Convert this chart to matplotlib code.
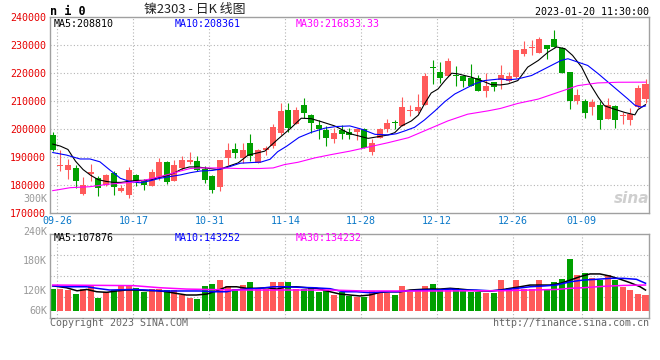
import matplotlib
matplotlib.use('Agg')
import matplotlib.pyplot as plt
import numpy as np

# ---------------- data ----------------
dates = ['09-26','09-27','09-28','09-29','09-30',
         '10-10','10-11','10-12','10-13','10-14',
         '10-17','10-18','10-19','10-20','10-21',
         '10-24','10-25','10-26','10-27','10-28',
         '10-31','11-01','11-02','11-03','11-04',
         '11-07','11-08','11-09','11-10','11-11',
         '11-14','11-15','11-16','11-17','11-18',
         '11-21','11-22','11-23','11-24','11-25',
         '11-28','11-29','11-30','12-01','12-02',
         '12-05','12-06','12-07','12-08','12-09',
         '12-12','12-13','12-14','12-15','12-16',
         '12-19','12-20','12-21','12-22','12-23',
         '12-26','12-27','12-28','12-29','12-30',
         '01-03','01-04','01-05','01-06',
         '01-09','01-10','01-11','01-12','01-13',
         '01-16','01-17','01-18','01-19','01-20']

opens = [197960,187000,185360,186200,176960,184040,182600,179960,184520,177800,
         176600,183800,181760,179600,182600,188240,181640,186200,188240,188840,
         185840,183440,179240,189800,192800,189800,195200,188000,192440,194000,
         198560,206840,201800,208760,205160,201440,199760,196400,199640,199040,
         199160,200000,191960,196760,200000,202520,201200,206360,206600,208760,
         222200,220400,219200,219440,219200,218360,218360,213800,217040,217640,
         217400,218600,227000,229040,227360,230240,232400,229160,220640,209960,
         210200,207800,208640,203600,208400,204680,203240,207800,210800]
highs = [199160,192440,189560,187160,182960,187760,183200,184040,185000,180200,
         186560,184160,182240,185840,189800,188840,189200,190400,191840,190640,
         186800,183800,189200,195200,195200,195200,198200,192800,194000,201800,
         209360,209360,207800,211160,205400,203240,201200,200600,201440,200600,
         200600,200600,196400,200600,203600,203240,211640,208760,212600,220040,
         224600,224000,225440,222560,219440,223400,219560,220040,217040,223040,
         220400,228440,231560,232040,233000,230240,235400,229400,220640,214400,
         210800,210800,210200,211040,208640,206240,207560,215960,218000]
lows = [192200,185240,182360,179000,176600,181640,176000,179600,176600,177440,
        175400,179600,178160,179600,182000,180560,181400,185600,187760,185000,
        180800,177200,177800,187400,189800,188000,188600,188000,191000,193400,
        197960,199160,201800,204200,198800,196400,194000,195200,196400,196400,
        196040,193400,190760,196760,199160,200000,201200,204800,206000,208760,
        216200,216560,219200,215600,215240,215600,213560,211400,213800,214400,
        216800,218360,226160,226400,227360,225200,229400,220040,207200,209000,
        203960,205160,200000,203600,200360,201800,201560,207560,209240]
closes = [192440,187160,187400,181640,180080,184640,179000,183800,179240,178880,
          185600,181400,179960,184640,188240,181040,187400,189200,189200,185600,
          182000,178400,189200,192440,191360,192440,190400,192440,193160,200960,
          206360,200360,206840,206000,202160,200000,197000,198560,198440,197960,
          200000,193400,194960,200240,202400,202280,207800,206840,208040,219200,
          221840,218240,224360,219080,217400,215600,213800,215600,215240,219440,
          219200,228200,228800,229280,232400,228800,229400,220160,210200,212360,
          205760,209840,203240,208640,203240,204920,205400,214760,216200]
# volume in thousands
volumes = [112,113,108,87,113,131,68,99,108,131,
           131,117,99,112,112,108,110,82,68,61,
           129,138,160,131,113,134,152,113,113,152,
           152,152,113,113,120,99,108,82,96,77,
           71,73,105,100,90,82,129,97,115,129,
           141,113,113,120,103,99,99,94,94,160,
           117,160,113,113,160,113,152,165,270,186,
           199,169,160,186,160,125,108,87,82]

tick_dates = ['09-26','10-17','10-31','11-14','11-28','12-12','12-26','01-09']
price_ticks = [170000,180000,190000,200000,210000,220000,230000,240000]
vol_tick_labels = ['300K','240K','180K','120K','60K']

# moving-average lines (position in trading-day index, value)
ma5_x = [0,1,2,3,4,5,6,7,8,9,10,11,12,13,14,15,16,17,18,19,21.8,24.4,25.7,27.9,29.6,31.4,
         32.7,34,35.3,37.1,38.4,39.1,41.5,44.1,45,45.9,47.2,48.1,48.9,49.8,50.7,51.6,52.5,
         53.3,55.1,56.4,57.7,58.9,59.9,61.2,62.5,63.9,65.2,66.3,67.4,68.4,69.6,70.7,71.8,
         72.6,73.9,75.3,76.6,77,78]
ma5_v = [194720,194000,192800,188600,185600,183560,182000,181400,181040,181040,181400,
         181760,181760,182000,182840,183440,184400,185840,186560,186560,185600,188000,
         190760,192200,196400,200600,203960,203800,202760,201200,199400,198440,196760,
         197960,198800,201200,203000,205040,209000,212960,214400,217400,220040,219800,
         218600,217400,215960,215840,216200,217400,222200,224600,227600,229400,228800,
         226400,222200,216200,211400,208400,207200,206000,205160,207000,208810]
ma10_x = [0,1.8,3.6,4.9,6.2,7.5,8.9,10.2,11.5,12.8,14.1,15.4,16.8,18.1,19.4,21,22.5,24.7,
          27.4,28.6,29.6,30.8,32.4,34,35.8,37.3,39.1,40.7,42.4,44.2,45.2,46.3,47.6,48.9,
          50.3,51.6,52.9,54.2,55.5,56.8,58.9,59.9,61.2,63,64.3,65.6,66.9,67.8,69.1,70.4,
          71.8,73.1,74.4,75.7,76.6,77.4,78]
ma10_v = [191700,190800,189400,189400,188400,185500,182500,181300,180900,181600,182500,
          183100,183700,184500,185100,185300,186000,187900,188300,189300,192000,194000,
          197100,198900,200400,201000,201200,200000,198200,198000,198400,199400,200700,
          203300,206600,209900,212600,214400,216200,217400,218000,217640,218000,219200,
          221000,222800,224600,225200,224000,222800,219800,216800,213800,210800,208600,
          207900,208361]
ma30_x = [0,0.7,2.3,4.9,7.5,10.2,11.5,12.8,14.1,15.4,16.8,18.1,19.4,21.8,24.4,27.2,29,
          30.5,32.3,34.5,36.7,39.1,41.5,44.1,46.8,49.4,52,54.6,57.3,58.9,61.2,63.9,66.5,
          69.1,71.7,74.4,78]
ma30_v = [178100,178400,179150,179500,180450,181000,181500,182250,183100,184000,185100,
          186000,186200,186200,186000,186000,186200,187400,188240,189800,191000,192200,
          193640,195200,197000,200000,203000,205400,206600,207440,209240,210800,213200,
          215600,216560,216800,216833]

vma5_x = [0,1.8,3.2,4.5,5.8,7.1,8.4,9.7,11.1,12.4,13.7,15,16.3,17.6,18.9,20.3,21.6,22.9,
          24.2,25.5,26.8,28.2,29.5,30.8,32.1,33.4,34.7,36.5,37.8,39.1,40.4,41.7,43.1,44.4,
          45.7,47,48.3,49.7,51,52.3,53.6,54.9,56.2,57.6,58.9,60.2,61.5,62.8,64.1,65.4,
          66.8,68.1,69.4,70.7,72,73.3,74.7,76,77.3,78]
vma5_v = [130,120,104,111,99,96,103,108,108,105,105,99,90,82,82,87,104,125,125,117,117,
          120,113,125,125,120,117,99,87,82,77,82,96,99,99,108,111,113,113,117,113,108,
          103,103,108,117,125,134,134,134,143,160,178,192,192,181,164,146,125,107.9]
vma10_x = [0,1.8,4.5,5.8,7.5,10.6,12.4,14.1,15.9,17.6,19.4,21.1,22.9,23.8,25.5,27.3,29,
           30.8,32.5,34.3,36.5,38.2,40,41.7,43.5,45.3,47,48.8,50.5,52.3,54,55.8,57.6,
           59.3,61.1,62.8,64.6,66.3,68.1,69.8,71.6,73.3,75.1,76.8,78]
vma10_v = [130,125,125,117,108,111,108,103,103,103,103,99,99,108,113,117,125,125,122,
           120,115,99,99,94,99,99,104,108,108,113,108,108,104,108,117,125,129,134,151,
           160,164,169,169,164,143.3]
vma30_x = [0,10.6,14.1,17.6,20.3,23.8,36.5,40.9,49.6,59.3,62.8,66.3,68.1,69.8,71.6,
           73.3,75.1,78]
vma30_v = [134,131,120,113,111,108,108,103,103,104.5,108,111,117,120,125,129,132,134.2]

price_legend = [('MA5', '208810'), ('MA10', '208361'), ('MA30', '216833.33')]
vol_legend = [('MA5', '107876'), ('MA10', '143252'), ('MA30', '134232')]
header_symbol = 'n i 0'
header_title = '镍2303 - 日K 线图'
header_time = '2023-01-20 11:30:00'
footer_left = 'Copyright 2023 SINA.COM'
footer_right = 'http://finance.sina.com.cn'

# ---------------- style ----------------
W, H = 660, 360
RED = '#ff5a5a'
GREEN = '#00a000'
GRID = '#b4b4b4'
FRAME = '#a0a0a0'
MONO = 'DejaVu Sans Mono'
ma_colors = ['#000000', '#0000ff', '#ff00ff']

fig = plt.figure(figsize=(W / 100, H / 100), dpi=100)
fig.patch.set_facecolor('white')

def px_axes(l, t, r, b):
    return fig.add_axes([l / W, 1 - b / H, (r - l) / W, (b - t) / H])

ax = px_axes(50, 17.3, 649.3, 213.3)
axv = px_axes(50, 234.3, 649.3, 317.7)

x = np.arange(len(dates))
o = np.array(opens); c = np.array(closes); hi = np.array(highs); lo = np.array(lows)
up = c >= o
cols = np.where(up, RED, GREEN)

xlim = (-0.36, len(dates) - 0.5)
for a in (ax, axv):
    a.set_xlim(*xlim)
    a.set_facecolor('white')
    for s in a.spines.values():
        s.set_color(FRAME)
        s.set_linewidth(1.0)
    a.tick_params(length=0)

# grid positions
tick_pos = [dates.index(d) + 0.6 for d in tick_dates]
dot = (0, (1, 2))
for a in (ax, axv):
    for tp in tick_pos:
        a.axvline(tp, color=GRID, lw=0.8, ls=dot, zorder=0)
for p in price_ticks[1:-1]:
    ax.axhline(p, color=GRID, lw=0.8, ls=dot, zorder=0)
for f in (0.25, 0.5, 0.75):
    axv.plot([0, 1], [f, f], transform=axv.transAxes, color=GRID, lw=0.8, ls=dot, zorder=0)

# candles
ax.set_ylim(price_ticks[0], price_ticks[-1])
body_h = np.maximum(np.abs(c - o), 300)
ax.vlines(x, lo, hi, colors=cols, lw=0.8, zorder=2)
ax.bar(x, body_h, bottom=np.minimum(o, c), width=0.79, color=cols, zorder=3, linewidth=0)

for (xs, vs), col in zip([(ma5_x, ma5_v), (ma10_x, ma10_v), (ma30_x, ma30_v)], ma_colors):
    ax.plot(xs, vs, color=col, lw=0.8, zorder=4)

ax.set_yticks(price_ticks)
ax.set_yticklabels([str(p) for p in price_ticks], color='#e60000',
                   fontsize=7.2, family=MONO)
ax.tick_params(axis='y', pad=3)
ax.set_xticks(tick_pos)
ax.set_xticklabels(tick_dates, color='#0a78c8', fontsize=7.2, family=MONO)
ax.tick_params(axis='x', pad=2.2)

# volume
axv.set_ylim(-36.5, 399)
axv.bar(x, volumes, width=0.79, color=cols, linewidth=0, zorder=2)
for (xs, vs), col in zip([(vma5_x, vma5_v), (vma10_x, vma10_v), (vma30_x, vma30_v)], ma_colors):
    axv.plot(xs, vs, color=col, lw=1.1, zorder=3)
axv.set_xticks([])
axv.set_yticks([])

# volume labels (as placed by the source chart)
vol_label_fracs = [1.423, 1.032, 0.68, 0.32, 0.08]
for lab, fy in zip(vol_tick_labels, vol_label_fracs):
    axv.text(-0.005, fy, lab, transform=axv.transAxes, ha='right', va='center',
             color='#999999', fontsize=7.2, family=MONO, clip_on=False)

# legends
leg_x = [0.0067, 0.2086, 0.4105]
for (name, val), lx, col in zip(price_legend, leg_x, ma_colors):
    ax.text(lx, 0.966, f'{name}:{val}', transform=ax.transAxes, ha='left', va='center',
            color=col, fontsize=7.2, family=MONO, zorder=6)
for (name, val), lx, col in zip(vol_legend, leg_x, ma_colors):
    axv.text(lx, 0.95, f'{name}:{val}', transform=axv.transAxes, ha='left', va='center',
             color=col, fontsize=7.2, family=MONO, zorder=6)

# header / footer
def ptext(px, py, s, **kw):
    fig.text(px / W, 1 - py / H, s, **kw)

ptext(50, 11.5, header_symbol, ha='left', va='center', fontsize=8.5,
      family=MONO, fontweight='bold', color='#000000')
ptext(195, 10, header_title, ha='center', va='center', fontsize=9.3,
      family=['Noto Sans CJK SC', 'DejaVu Sans'], color='#222222')
ptext(649, 12, header_time, ha='right', va='center', fontsize=7.2, family=MONO, color='#000000')
ptext(50, 323.5, footer_left, ha='left', va='center', fontsize=7.2, family=MONO, color='#666666')
ptext(649, 323.5, footer_right, ha='right', va='center', fontsize=7.2, family=MONO, color='#666666')

# watermark
ax.text(0.97, 0.075, 'sina', transform=ax.transAxes, ha='center', va='center',
        fontsize=11, style='italic', fontweight='bold', color='#cfcfcf', zorder=1)

fig.savefig('out.png', dpi=100, facecolor='white')
